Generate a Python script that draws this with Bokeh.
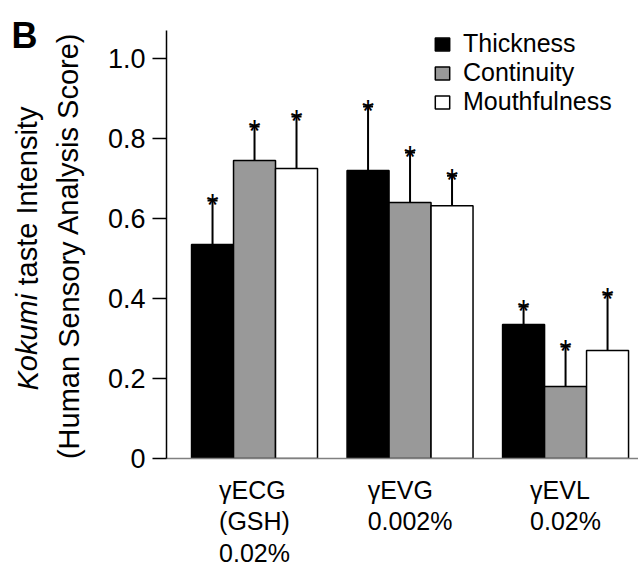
from bokeh.plotting import figure
from bokeh.layouts import row, column
from bokeh.models import (Range1d, FixedTicker, Legend, LegendItem, Label,
                          LabelSet, Whisker, TeeHead, ColumnDataSource)
from bokeh.embed import file_html
from bokeh.resources import INLINE
from bokeh.core.properties import value

# ---- data ----
groups = ["γECG\n(GSH)\n0.02%", "γEVG\n0.002%", "γEVL\n0.02%"]
series = ["Thickness", "Continuity", "Mouthfulness"]
thickness = [0.535, 0.72, 0.335]
thickness_err = [0.11, 0.16, 0.045]
continuity = [0.745, 0.64, 0.18]
continuity_err = [0.085, 0.125, 0.10]
mouthfulness = [0.725, 0.632, 0.27]
mouthfulness_err = [0.13, 0.075, 0.14]
y_ticks = [0, 0.2, 0.4, 0.6, 0.8, 1.0]
y_tick_labels = ["0", "0.2", "0.4", "0.6", "0.8", "1.0"]
y_title_italic = "Kokumi"
y_title_rest = "taste Intensity"
y_title_line2 = "(Human Sensory Analysis Score)"
panel_letter = "B"

FONT = "Liberation Sans"
TOTAL_W, TOTAL_H = 638, 566
LEFT_W = 98
MAIN_W = TOTAL_W - LEFT_W
MAIN_H = 475
BOT_H = TOTAL_H - MAIN_H


def bare(fig):
    fig.outline_line_color = None
    fig.xgrid.grid_line_color = None
    fig.ygrid.grid_line_color = None
    fig.axis.visible = False
    fig.min_border = 0


# ---- main plot ----
x_rng = Range1d(-0.566, 2.469)
p = figure(width=MAIN_W, height=MAIN_H, output_backend="svg",
           toolbar_location=None, x_range=x_rng, y_range=Range1d(0, 1.07),
           min_border_left=68, min_border_right=0, min_border_top=30,
           min_border_bottom=17)
p.outline_line_color = None
p.xgrid.grid_line_color = None
p.ygrid.grid_line_color = None

fills = ["black", "#999999", "white"]
offsets = [-0.27, 0.0, 0.27]
bw = 0.27
vals = [thickness, continuity, mouthfulness]
errs = [thickness_err, continuity_err, mouthfulness_err]

items = []
for name, v, e, f, off in zip(series, vals, errs, fills, offsets):
    xs = [i + off for i in range(len(groups))]
    up = [a + b for a, b in zip(v, e)]
    src = ColumnDataSource(dict(x=xs, top=v, up=up))
    r = p.vbar(x="x", top="top", width=bw, source=src, fill_color=f,
               line_color="black", line_width=1.5)
    items.append(LegendItem(label=name, renderers=[r]))
    w = Whisker(base="x", lower="top", upper="up", source=src,
                dimension="height", line_color="black", line_width=2,
                upper_head=TeeHead(size=10, line_color="black", line_width=2),
                lower_head=None, level="overlay")
    p.add_layout(w)
    p.text(x="x", y="up", text=value("*"), source=src,
           text_font=value(FONT), text_font_size="31px", text_align="center",
           text_baseline="alphabetic", y_offset=5, text_color="black")

legend = Legend(items=items, location=(267, 342), padding=0, margin=0,
                spacing=0, border_line_color=None, background_fill_alpha=0,
                glyph_width=18, glyph_height=16, label_standoff=12,
                label_height=20, label_text_font=FONT,
                label_text_font_size="25px", label_text_color="black")
p.add_layout(legend)

ya = p.yaxis[0]
ya.ticker = FixedTicker(ticks=y_ticks)
ya.major_label_overrides = dict(zip(y_ticks, y_tick_labels))
ya.major_tick_out = 14
ya.major_tick_in = 0
ya.minor_tick_out = 0
ya.minor_tick_in = 0
ya.axis_line_width = 1.5
ya.major_tick_line_width = 1.5
ya.major_label_text_font = FONT
ya.major_label_text_font_size = "27px"
ya.major_label_standoff = 7
ya.major_label_text_color = "black"

xa = p.xaxis[0]
xa.ticker = FixedTicker(ticks=[])
xa.major_tick_out = 0
xa.major_tick_in = 0
xa.minor_tick_out = 0
xa.minor_tick_in = 0
xa.axis_line_color = "#808080"
xa.axis_line_width = 1.5

# ---- category labels strip (below the main plot) ----
bot = figure(width=MAIN_W, height=BOT_H, output_backend="svg",
             toolbar_location=None, x_range=x_rng,
             y_range=Range1d(TOTAL_H, MAIN_H))
bare(bot)
bot.min_border_left = 68
cat_src = ColumnDataSource(dict(x=list(range(len(groups))), text=groups))
bot.add_layout(LabelSet(x="x", y=475, text="text", source=cat_src,
                        text_font=value(FONT), text_font_size=value("25px"),
                        text_line_height=1.14, text_align="center",
                        text_baseline="top", text_color="black"))

# ---- left strip: panel letter and y title ----
left = figure(width=LEFT_W, height=TOTAL_H, output_backend="svg",
              toolbar_location=None, x_range=Range1d(0, LEFT_W),
              y_range=Range1d(TOTAL_H, 0))
bare(left)
left.add_layout(Label(x=11, y=35, text=panel_letter, text_font=FONT,
                      text_font_style="bold", text_font_size="36px",
                      text_align="left", text_baseline="alphabetic",
                      text_color="black"))
left.add_layout(Label(x=27, y=390, text=y_title_italic, angle=1.5708,
                      text_font=FONT, text_font_style="italic",
                      text_font_size="29px", text_align="left",
                      text_baseline="middle", text_color="black"))
left.add_layout(Label(x=27, y=390 - 105, text=y_title_rest, angle=1.5708,
                      text_font=FONT, text_font_size="29px",
                      text_align="left", text_baseline="middle",
                      text_color="black"))
left.add_layout(Label(x=68, y=245, text=y_title_line2, angle=1.5708,
                      text_font=FONT, text_font_size="29px",
                      text_align="center", text_baseline="middle",
                      text_color="black"))

layout = row(left, column(p, bot))
open("out.html", "w").write(file_html(layout, INLINE))
